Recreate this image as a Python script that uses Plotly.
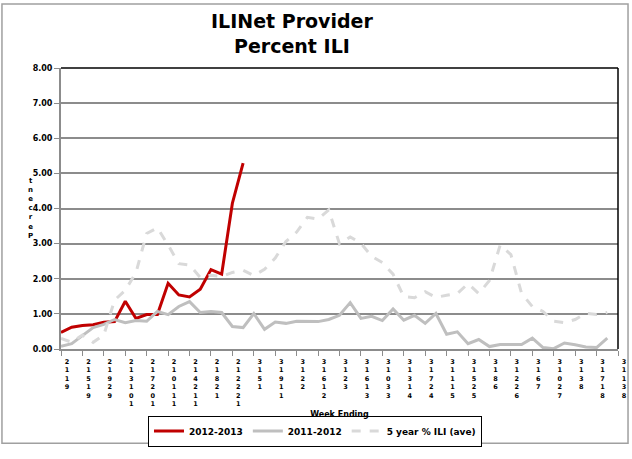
import plotly.graph_objects as go

# week ending dates (Saturday), 2012-2013 season
week_ending = [
    "9/1/12", "9/8/12", "9/15/12", "9/22/12", "9/29/12", "10/6/12", "10/13/12",
    "10/20/12", "10/27/12", "11/3/12", "11/10/12", "11/17/12", "11/24/12",
    "12/1/12", "12/8/12", "12/15/12", "12/22/12", "12/29/12", "1/5/13",
    "1/12/13", "1/19/13", "1/26/13", "2/2/13", "2/9/13", "2/16/13", "2/23/13",
    "3/2/13", "3/9/13", "3/16/13", "3/23/13", "3/30/13", "4/6/13", "4/13/13",
    "4/20/13", "4/27/13", "5/4/13", "5/11/13", "5/18/13", "5/25/13", "6/1/13",
    "6/8/13", "6/15/13", "6/22/13", "6/29/13", "7/6/13", "7/13/13", "7/20/13",
    "7/27/13", "8/3/13", "8/10/13", "8/17/13", "8/24/13", "8/31/13",
]

ili_2012_13 = [0.47, 0.62, 0.67, 0.69, 0.76, 0.78, 1.36, 0.87, 0.98, 0.98,
               1.87, 1.54, 1.48, 1.70, 2.26, 2.13, 4.15, 5.29]

ili_2011_12 = [0.08, 0.15, 0.38, 0.61, 0.70, 0.84, 0.75, 0.81, 0.79, 1.07,
               0.98, 1.21, 1.35, 1.04, 1.07, 1.04, 0.64, 0.61, 1.01, 0.56,
               0.77, 0.73, 0.79, 0.79, 0.78, 0.84, 0.96, 1.32, 0.87, 0.93,
               0.81, 1.14, 0.82, 0.96, 0.73, 1.01, 0.42, 0.49, 0.15, 0.27,
               0.07, 0.13, 0.12, 0.13, 0.31, 0.04, 0.01, 0.17, 0.12, 0.06,
               0.04, 0.31]

ili_5yr = [0.30, 0.19, 0.40, 0.19, 0.40, 1.39, 1.67, 2.18, 3.29, 3.45,
           2.96, 2.43, 2.39, 2.04, 2.10, 2.06, 2.18, 2.24, 2.09, 2.27,
           2.59, 3.06, 3.33, 3.75, 3.70, 3.96, 2.99, 3.19, 3.01, 2.64,
           2.46, 2.13, 1.49, 1.46, 1.63, 1.47, 1.53, 1.58, 1.86, 1.58,
           1.95, 2.96, 2.69, 1.58, 1.21, 1.07, 0.79, 0.75, 0.84, 1.02,
           0.98, 1.04]

y_ticks = [0, 1, 2, 3, 4, 5, 6, 7, 8]


def stacked(label):
    # the original labels come out reversed and stacked one glyph per row
    chars = [c for c in reversed(label) if c != "/"]
    return "<br>".join(chars)


fig = go.Figure()
fig.add_trace(go.Scatter(x=week_ending[:len(ili_2012_13)], y=ili_2012_13,
                         mode="lines", name="2012-2013",
                         line=dict(color="#C00000", width=3)))
fig.add_trace(go.Scatter(x=week_ending[:len(ili_2011_12)], y=ili_2011_12,
                         mode="lines", name="2011-2012",
                         line=dict(color="#BFBFBF", width=3)))
fig.add_trace(go.Scatter(x=week_ending[:len(ili_5yr)], y=ili_5yr,
                         mode="lines", name="5 year % ILI (ave)",
                         line=dict(color="#D9D9D9", width=3, dash="dash")))

fig.update_layout(
    width=632, height=459,
    margin=dict(l=61, r=14, t=68, b=102),
    paper_bgcolor="white", plot_bgcolor="white",
    font=dict(family="DejaVu Sans", color="black"),
    showlegend=True,
    legend=dict(orientation="h", x=0.456, xanchor="center", y=-0.292, yanchor="middle",
                bordercolor="black", borderwidth=1, bgcolor="white",
                font=dict(size=9, weight="bold"), itemwidth=30,
                tracegroupgap=0),
)

fig.add_annotation(text="<b>ILINet Provider<br>Percent ILI</b>",
                   xref="paper", yref="paper", x=0.415, xanchor="center",
                   y=1.215, yanchor="top", showarrow=False,
                   font=dict(size=19, family="DejaVu Sans"))

fig.update_xaxes(
    type="category", categoryorder="array", categoryarray=week_ending,
    range=[0, 52], showgrid=False, zeroline=False, automargin=False,
    showline=True, linecolor="#8c8c8c", linewidth=2,
    ticks="outside", ticklen=5, tickcolor="#8c8c8c", tickwidth=1,
    tickvals=week_ending[::2], ticktext=[stacked(d) for d in week_ending[::2]],
    tickangle=0, ticklabelshift=6,
    tickfont=dict(size=6.5, weight="bold"),
    title=dict(text="Week Ending", font=dict(size=8, weight="bold"), standoff=4),
)
fig.update_yaxes(
    range=[0, 8], tickvals=y_ticks, ticktext=[f"{v:.2f}" for v in y_ticks],
    showgrid=True, gridcolor="#8c8c8c", gridwidth=1.5, zeroline=False,
    automargin=False,
    showline=True, linecolor="#8c8c8c", linewidth=2,
    ticks="outside", ticklen=5, tickcolor="#8c8c8c",
    tickfont=dict(size=8, weight="bold"),
)

# garbled vertical axis title from the original chart
fig.add_annotation(text="<b>" + "<br>".join(reversed("Percent")) + "</b>",
                   xref="paper", yref="paper", x=-0.062, y=0.62, yanchor="top",
                   showarrow=False, font=dict(size=7))

# black top/right plot border and grey outer frame
fig.add_shape(type="line", xref="paper", yref="paper", x0=0, x1=1, y0=1, y1=1,
              line=dict(color="black", width=1.5))
fig.add_shape(type="line", xref="paper", yref="paper", x0=1, x1=1, y0=0, y1=1,
              line=dict(color="black", width=1.5))
fig.add_shape(type="rect", xref="paper", yref="paper", x0=-0.106, x1=1.018,
              y0=-0.335, y1=1.228, line=dict(color="#a0a0a0", width=1.5))

fig.write_html("out.html", config={"displayModeBar": False},
               post_script="document.body.style.margin='0';"
                           "document.documentElement.style.overflow='hidden';")
